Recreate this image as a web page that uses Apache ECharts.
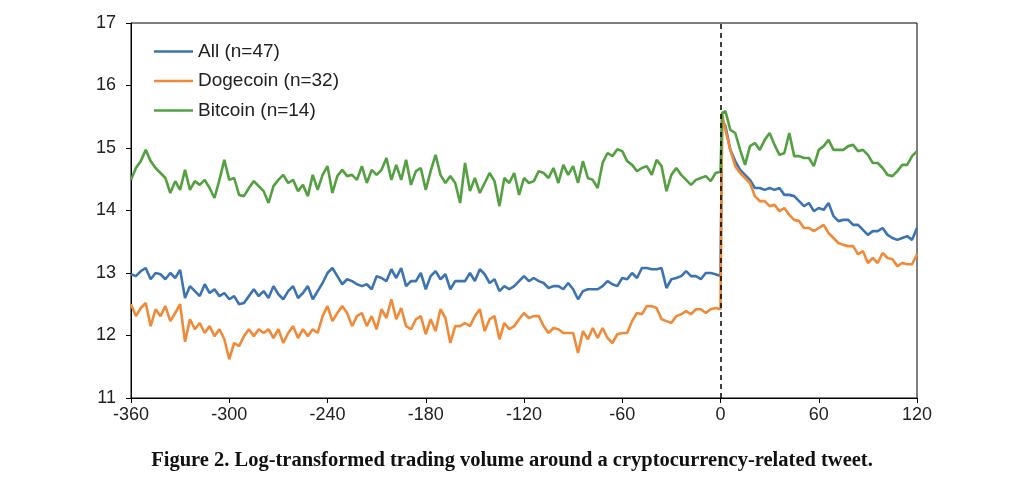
<!DOCTYPE html>
<html>
<head>
<meta charset="utf-8">
<script src="https://cdn.jsdelivr.net/npm/echarts@6/dist/echarts.min.js"></script>
<style>
html,body{margin:0;padding:0;background:#fff;}
#chart{width:1024px;height:494px;}
</style>
</head>
<body>
<div id="chart"></div>
<script>
// Minutes relative to the tweet: every 3 minutes before, then 1 and every 3 minutes after
const minutesBefore = [];
for (let m = -360; m <= 0; m += 3) minutesBefore.push(m);
const minutesAfter = [1];
for (let m = 3; m <= 120; m += 3) minutesAfter.push(m);
const minutes = minutesBefore.concat(minutesAfter);

const xTicks = [-360, -300, -240, -180, -120, -60, 0, 60, 120];
const yTicks = [11, 12, 13, 14, 15, 16, 17];

const seriesNames = ['All (n=47)', 'Dogecoin (n=32)', 'Bitcoin (n=14)'];

const allVol = [
  12.98,12.95,13.03,13.08,12.90,13.00,12.98,12.90,13.00,12.92,
  13.05,12.60,12.79,12.71,12.63,12.82,12.68,12.74,12.63,12.68,
  12.58,12.63,12.50,12.52,12.63,12.74,12.63,12.71,12.60,12.79,
  12.66,12.58,12.71,12.79,12.60,12.68,12.79,12.58,12.71,12.84,13.00,
  13.08,12.95,12.82,12.90,12.87,12.82,12.79,12.82,12.74,12.95,
  12.92,12.87,13.06,12.92,13.08,12.79,12.87,12.87,13.00,12.74,
  12.95,13.03,12.90,12.98,12.74,12.87,12.87,12.87,13.00,12.87,
  13.06,12.98,12.84,12.90,12.71,12.79,12.74,12.79,12.87,12.95,
  12.87,12.92,12.87,12.84,12.76,12.79,12.79,12.74,12.84,12.74,
  12.58,12.71,12.74,12.74,12.74,12.79,12.87,12.82,12.79,12.92,
  12.90,13.00,12.92,13.08,13.08,13.06,13.06,13.08,12.76,12.90,
  12.92,12.95,13.03,12.95,12.95,12.90,13.00,13.00,12.98,12.95,
  15.45,15.35,14.97,14.79,14.65,14.57,14.49,14.36,14.36,14.33,
  14.36,14.33,14.36,14.25,14.25,14.23,14.15,14.07,14.12,13.99,
  14.04,14.01,14.12,13.91,13.83,13.85,13.85,13.77,13.77,13.69,
  13.61,13.67,13.67,13.72,13.61,13.56,13.53,13.56,13.59,13.53,13.72
];

const dogeVol = [
  12.50,12.31,12.44,12.52,12.15,12.42,12.31,12.47,12.23,12.36,
  12.50,11.90,12.26,12.10,12.20,12.04,12.15,11.99,12.10,11.94,
  11.62,11.88,11.83,11.99,12.10,11.99,12.10,12.04,12.10,11.96,
  12.10,11.88,12.04,12.15,11.96,12.10,11.99,12.10,12.04,12.31,12.47,
  12.23,12.36,12.47,12.36,12.15,12.31,12.36,12.15,12.31,12.10,
  12.42,12.28,12.58,12.26,12.44,12.15,12.10,12.26,12.31,12.02,
  12.26,12.07,12.42,12.28,11.88,12.15,12.15,12.20,12.15,12.31,
  12.42,12.07,12.26,12.31,11.94,12.20,12.10,12.15,12.26,12.36,
  12.28,12.31,12.31,12.15,12.04,12.12,12.10,12.04,12.04,12.04,
  11.72,12.07,11.94,12.12,11.96,12.12,11.96,11.88,12.02,12.04,
  12.04,12.23,12.36,12.34,12.47,12.47,12.44,12.26,12.23,12.20,
  12.31,12.34,12.39,12.34,12.42,12.42,12.36,12.42,12.44,12.42,
  15.53,15.29,14.97,14.71,14.60,14.52,14.44,14.23,14.15,14.15,
  14.07,14.09,13.99,14.04,13.93,13.85,13.83,13.72,13.72,13.67,
  13.72,13.77,13.64,13.56,13.48,13.45,13.43,13.43,13.30,13.35,
  13.16,13.24,13.16,13.32,13.24,13.22,13.11,13.16,13.14,13.14,13.30
];

const btcVol = [
  14.49,14.68,14.79,14.97,14.79,14.68,14.60,14.52,14.28,14.47,
  14.33,14.65,14.33,14.47,14.41,14.49,14.36,14.20,14.49,14.81,
  14.49,14.52,14.25,14.23,14.36,14.47,14.39,14.31,14.12,14.39,
  14.49,14.57,14.44,14.49,14.31,14.41,14.23,14.57,14.33,14.57,14.71,
  14.28,14.55,14.65,14.55,14.57,14.49,14.71,14.44,14.65,14.57,
  14.65,14.84,14.49,14.73,14.49,14.81,14.41,14.63,14.68,14.33,
  14.63,14.89,14.57,14.44,14.55,14.44,14.12,14.76,14.31,14.52,
  14.28,14.44,14.60,14.47,14.07,14.52,14.44,14.60,14.25,14.52,
  14.44,14.47,14.63,14.60,14.52,14.68,14.44,14.73,14.57,14.71,
  14.44,14.79,14.52,14.49,14.36,14.76,14.92,14.87,14.98,14.95,
  14.79,14.73,14.63,14.68,14.71,14.57,14.81,14.71,14.31,14.57,
  14.68,14.57,14.49,14.41,14.49,14.52,14.55,14.47,14.60,14.62,
  15.56,15.59,15.29,15.24,14.97,14.73,15.03,15.08,14.97,15.13,
  15.24,15.05,14.89,14.92,15.24,14.87,14.87,14.84,14.84,14.71,
  14.97,15.03,15.13,14.97,14.97,14.97,15.03,15.05,14.95,14.97,
  14.89,14.76,14.76,14.68,14.57,14.55,14.63,14.73,14.73,14.87,14.95
];

const caption = 'Figure 2. Log-transformed trading volume around a cryptocurrency-related tweet.';

const colors = ['#3b73b3', '#f08a38', '#52a040'];
const pair = arr => minutes.map((m, i) => [m, arr[i]]);

const chart = echarts.init(document.getElementById('chart'), null, {renderer: 'canvas'});
const axisFont = {fontFamily: 'Liberation Sans, Arial, sans-serif', fontSize: 18, color: '#222'};

chart.setOption({
  animation: false,
  color: colors,
  title: {
    text: caption,
    left: 'center',
    top: 445,
    textStyle: {fontFamily: 'Liberation Serif, Times New Roman, serif', fontWeight: 'bold', fontSize: 20.5, color: '#111'}
  },
  legend: {
    data: seriesNames,
    orient: 'vertical',
    left: 154,
    top: 41,
    padding: 0,
    icon: 'rect',
    itemWidth: 39,
    itemHeight: 2.5,
    itemGap: 8.5,
    textStyle: {fontFamily: 'Liberation Sans, Arial, sans-serif', fontSize: 19, color: '#222', lineHeight: 21}
  },
  grid: {
    left: 131, right: 107, top: 23, bottom: 96,
    show: true, borderColor: '#000', borderWidth: 1, backgroundColor: 'transparent'
  },
  xAxis: {
    type: 'value',
    min: xTicks[0], max: xTicks[xTicks.length - 1], interval: 60,
    axisLine: {show: true, onZero: false, lineStyle: {color: '#000', width: 1}},
    axisTick: {show: true, length: 5, lineStyle: {color: '#000'}},
    splitLine: {show: false},
    axisLabel: Object.assign({margin: 8}, axisFont)
  },
  yAxis: {
    type: 'value',
    min: yTicks[0], max: yTicks[yTicks.length - 1], interval: 1,
    axisLine: {show: true, onZero: false, lineStyle: {color: '#000', width: 1}},
    axisTick: {show: true, length: 5, lineStyle: {color: '#000'}},
    splitLine: {show: false},
    axisLabel: Object.assign({margin: 15}, axisFont)
  },
  series: [
    {
      name: seriesNames[0], type: 'line', data: pair(allVol), symbol: 'none',
      lineStyle: {width: 2.6, color: colors[0]},
      markLine: {
        silent: true, symbol: 'none', label: {show: false},
        lineStyle: {color: '#000', type: [5, 4], width: 1.5},
        data: [{xAxis: 0}]
      }
    },
    {name: seriesNames[1], type: 'line', data: pair(dogeVol), symbol: 'none', lineStyle: {width: 2.6, color: colors[1]}},
    {name: seriesNames[2], type: 'line', data: pair(btcVol), symbol: 'none', lineStyle: {width: 2.6, color: colors[2]}}
  ]
});
</script>
</body>
</html>
